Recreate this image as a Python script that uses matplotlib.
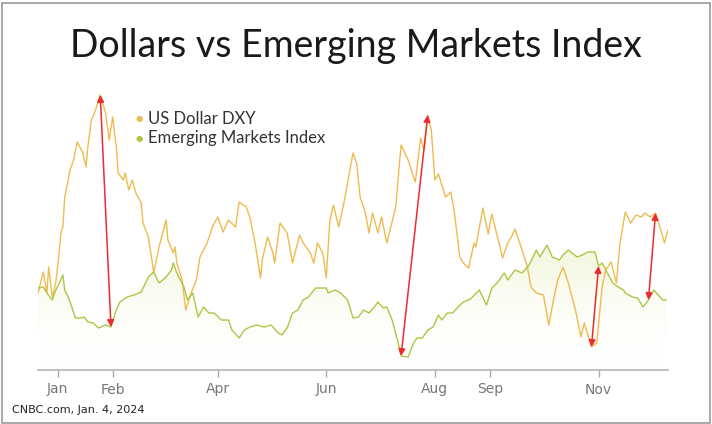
"""Dollar index vs emerging markets index, 2023, with swing arrows."""
import numpy as np
import matplotlib
matplotlib.use("Agg")
import matplotlib.pyplot as plt
import matplotlib.dates as mdates
from matplotlib.patches import Rectangle, FancyArrowPatch

BASE = np.datetime64("2023-01-01")

# days since 1 Jan 2023, relative level (rebased, no axis shown)
dxy_days = [-11, -8, -6, -5, -3, -1, 0, 2, 3, 4, 6, 7, 9, 11, 14, 16, 17, 19, 21, 23,
            24, 27, 29, 31, 33, 34, 37, 38, 40, 42, 44, 47, 48, 51, 53, 54, 57, 61, 62, 65,
            66, 67, 70, 72, 75, 78, 80, 84, 87, 90, 93, 96, 100, 102, 106, 108, 111, 114, 115, 118,
            121, 122, 125, 129, 132, 136, 138, 142, 144, 146, 149, 151, 153, 155, 158, 161, 166, 168, 170, 173,
            175, 177, 180, 182, 185, 190, 193, 197, 200, 201, 204, 206, 208, 210, 212, 214, 218, 221, 223, 226,
            228, 231, 234, 235, 239, 242, 244, 249, 250, 253, 255, 257, 261, 264, 266, 269, 273, 276, 279, 281,
            284, 287, 291, 294, 296, 300, 303, 306, 308, 311, 314, 316, 319, 322, 325, 328, 330, 333, 336, 339,
            341, 343]
dxy_vals = [77, 98, 77, 103, 73, 87, 103, 138, 143, 173, 190, 200, 210, 228, 218, 203, 223, 250, 258, 270,
            275, 257, 230, 253, 223, 197, 190, 197, 180, 190, 177, 167, 147, 133, 110, 97, 123, 150, 130, 117,
            123, 107, 90, 60, 77, 90, 113, 127, 143, 153, 138, 150, 143, 168, 163, 153, 127, 92, 110, 133,
            117, 107, 147, 137, 107, 135, 127, 117, 107, 127, 117, 92, 150, 165, 143, 168, 217, 207, 173, 157,
            137, 157, 137, 153, 127, 163, 225, 210, 193, 188, 232, 220, 255, 240, 190, 196, 173, 178, 157, 113,
            107, 102, 127, 123, 162, 136, 156, 120, 112, 127, 133, 141, 120, 103, 83, 77, 75, 45, 73, 90,
            103, 87, 60, 33, 47, 23, 27, 83, 100, 108, 87, 127, 158, 147, 155, 153, 157, 153, 157, 140,
            127, 140]

em_days = [-11, -8, -6, -3, -1, 1, 3, 4, 6, 8, 10, 13, 15, 17, 20, 23, 27, 30, 33, 35,
           39, 43, 47, 51, 54, 57, 59, 61, 64, 65, 67, 71, 73, 76, 79, 82, 85, 88, 92, 96,
           98, 102, 105, 108, 112, 116, 120, 124, 126, 129, 132, 135, 138, 141, 145, 148, 151, 152, 156, 159,
           163, 166, 169, 172, 175, 178, 180, 183, 185, 188, 191, 193, 197, 200, 202, 205, 208, 211, 214, 216,
           219, 222, 225, 228, 232, 237, 241, 244, 247, 251, 253, 257, 261, 265, 269, 271, 275, 278, 282, 284,
           287, 289, 292, 295, 298, 302, 304, 306, 309, 312, 315, 318, 319, 323, 326, 329, 332, 335, 340, 342]
em_vals = [82, 83, 77, 70, 80, 87, 95, 80, 73, 63, 52, 52, 53, 48, 47, 42, 45, 43, 60, 68,
           73, 75, 78, 93, 98, 87, 90, 93, 100, 107, 97, 83, 70, 77, 53, 63, 57, 57, 50, 50,
           40, 32, 40, 43, 45, 43, 45, 37, 35, 42, 57, 60, 70, 73, 82, 82, 82, 77, 80, 77,
           70, 52, 53, 60, 57, 63, 68, 62, 63, 50, 30, 14, 13, 27, 32, 32, 40, 43, 55, 50,
           57, 57, 63, 68, 71, 80, 65, 82, 87, 97, 90, 100, 97, 105, 120, 113, 125, 113, 110, 115,
           120, 117, 113, 115, 118, 118, 104, 107, 97, 87, 83, 80, 77, 73, 72, 63, 70, 80, 70, 70]

# (series, day) at each end of the red swing arrows: low end first
arrows = [(("em", 30), ("dxy", 24)),
          (("em", 193), ("dxy", 208)),
          (("dxy", 300), ("em", 304)),
          (("em", 332), ("dxy", 336))]

month_ticks = ["2023-01-01", "2023-02-01", "2023-04-01", "2023-06-01",
               "2023-08-01", "2023-09-01", "2023-11-01"]
month_labels = ["Jan", "Feb", "Apr", "Jun", "Aug", "Sep", "Nov"]

DXY_C = "#f0bb4e"
EM_C = "#adc644"
RED = "#ec2b2f"

dxy_x = BASE + np.array(dxy_days).astype("timedelta64[D]")
em_x = BASE + np.array(em_days).astype("timedelta64[D]")
series = {"dxy": (dxy_days, dxy_vals), "em": (em_days, em_vals)}

fig = plt.figure(figsize=(7.12, 4.24), dpi=100)
W, H = 712, 424
ax = fig.add_axes([38 / W, 1 - 370 / H, 630 / W, 290 / H])

# light gradient fill under the EM line
xn = mdates.date2num(em_x)
poly = ax.fill_between(em_x, em_vals, 0, color="none", lw=0)
grad = np.linspace(0, 1, 256).reshape(-1, 1)
cmap = matplotlib.colors.LinearSegmentedColormap.from_list(
    "fade", [(1, 1, 1, 0), (0.93, 0.95, 0.80, 0.7)])
img = ax.imshow(grad, cmap=cmap, aspect="auto", origin="lower",
                extent=[xn.min(), xn.max(), 0, max(em_vals)], zorder=1)
img.set_clip_path(poly.get_paths()[0], transform=ax.transData)

ax.plot(dxy_x, dxy_vals, color=DXY_C, lw=1.0, zorder=3)
ax.plot(em_x, em_vals, color=EM_C, lw=1.0, zorder=3)

for lo, hi in arrows:
    pts = []
    for key, day in (lo, hi):
        d, v = series[key]
        pts.append((mdates.date2num(BASE + np.timedelta64(day, "D")),
                    np.interp(day, d, v)))
    ax.add_patch(FancyArrowPatch(pts[0], pts[1], arrowstyle="<|-|>,head_length=4,head_width=2",
                                 color=RED, lw=1.1, shrinkA=0, shrinkB=0, zorder=4))

ax.set_xlim(BASE - np.timedelta64(11, "D"), BASE + np.timedelta64(343, "D"))
ax.set_ylim(0, 290)
ax.set_xticks([np.datetime64(t) for t in month_ticks])
ax.set_xticklabels(month_labels, fontsize=10, color="#777777",
                   family=["Liberation Sans Narrow", "DejaVu Sans"])
ax.tick_params(axis="x", length=5, width=1, color="#aaaaaa", pad=4)
ax.set_yticks([])
for s in ["top", "right", "left"]:
    ax.spines[s].set_visible(False)
ax.spines["bottom"].set_color("#b5b5b5")
ax.spines["bottom"].set_linewidth(1.2)

fig.text(0.5, 1 - 46 / H, "Dollars vs Emerging Markets Index", ha="center", va="center",
         fontsize=27, color="#1a1a1a", family=["Lato", "DejaVu Sans"])

for i, (label, c) in enumerate([("US Dollar DXY", DXY_C), ("Emerging Markets Index", EM_C)]):
    yy = 1 - (119 + 19 * i) / H
    fig.text(139 / W, yy, "\u25cf", color=c, fontsize=6, ha="center", va="center")
    fig.text(148 / W, yy, label, color="#333333", fontsize=12, ha="left", va="center",
             family=["Lato", "DejaVu Sans"])

fig.text(12 / W, 1 - 410 / H, "CNBC.com, Jan. 4, 2024", fontsize=8, color="#222222",
         ha="left", va="center", family=["Liberation Sans Narrow", "DejaVu Sans"])

fig.patches.append(Rectangle((1.5 / W, 1.5 / H), 1 - 4 / W, 1 - 4 / H, transform=fig.transFigure,
                             fill=False, ec="#9a9a9a", lw=1.2))

fig.savefig("out.png", dpi=100)
